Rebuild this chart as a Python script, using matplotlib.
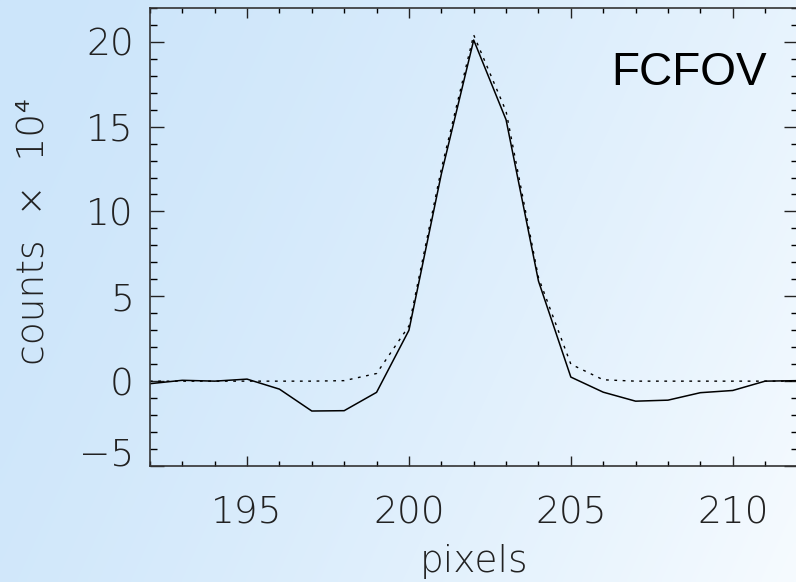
import numpy as np
import matplotlib
matplotlib.use("Agg")
import matplotlib.pyplot as plt
from matplotlib.ticker import MultipleLocator

# Pixel positions and counts (units of 1e4)
pixels = list(range(192, 213))
counts_data = [-0.15, 0.05, 0.0, 0.12, -0.47, -1.76, -1.74, -0.66, 3.0, 12.2,
               20.1, 15.4, 5.9, 0.24, -0.65, -1.18, -1.12, -0.68, -0.55, 0.0, 0.03]
counts_model = [0.0, 0.0, 0.0, 0.0, 0.0, 0.0, 0.03, 0.45, 3.25, 12.5,
                20.4, 15.9, 6.1, 1.0, 0.08, 0.0, 0.0, 0.0, 0.0, 0.0, 0.0]
xticks = [195, 200, 205, 210]
yticks = [-5, 0, 5, 10, 15, 20]

W, H, DPI = 796, 582, 100
fig = plt.figure(figsize=(W / DPI, H / DPI), dpi=DPI)

# soft blue-to-white background gradient
bg = fig.add_axes([0, 0, 1, 1])
bg.set_axis_off()
xn = np.linspace(0, 1, 200)[None, :]
yn = np.linspace(0, 1, 150)[:, None]
t = np.clip(0.75 * xn + 0.25 * yn, 0, 1) ** 1.5
c0 = np.array([204, 229, 250]) / 255.0
c1 = np.array([246, 251, 255]) / 255.0
img = c0[None, None, :] * (1 - t[..., None]) + c1[None, None, :] * t[..., None]
bg.imshow(img, aspect="auto", extent=[0, 1, 0, 1], origin="upper", interpolation="bilinear")
bg.set_xlim(0, 1)
bg.set_ylim(0, 1)

left, right = 149.9, 797.5
top, bottom = 7.8, 466.0
ax = fig.add_axes([left / W, (H - bottom) / H, (right - left) / W, (bottom - top) / H])
ax.set_facecolor("none")

ax.plot(pixels, counts_model, color="black", lw=1.0, linestyle=(0, (2, 4)))
ax.plot(pixels, counts_data, color="black", lw=1.1)

ax.set_xlim(192, 212)
ax.set_ylim(-5, 22)
ax.set_xticks(xticks)
ax.set_yticks(yticks)
ax.xaxis.set_minor_locator(MultipleLocator(1))
ax.yaxis.set_minor_locator(MultipleLocator(1))

thin = dict(family=["DejaVu Sans"], weight=200, size=27)
ax.set_xticklabels([str(v) for v in xticks], **thin)
ax.set_yticklabels([("\u2212" + str(-v)) if v < 0 else str(v) for v in yticks], **thin)
for lab in ax.get_yticklabels():
    if lab.get_text().startswith("\u2212"):
        lab.set_va("baseline")

ax.tick_params(axis="x", which="major", direction="in", length=7, width=1.0,
               top=True, bottom=True, pad=21, colors="#222222")
ax.tick_params(axis="x", which="minor", direction="in", length=3.6, width=1.0,
               top=True, bottom=True)
ax.tick_params(axis="y", which="major", direction="in", length=10, width=1.0,
               left=True, right=True, pad=11.5, colors="#222222")
ax.tick_params(axis="y", which="minor", direction="in", length=5, width=1.0,
               left=True, right=True)
for sp in ax.spines.values():
    sp.set_color("#333333")
    sp.set_linewidth(1.2)

ax.set_xlabel("pixels", color="#222222", **thin)
ax.xaxis.set_label_coords(0.5, -0.2314)
ax.xaxis.label.set_va("baseline")

ax.set_ylabel("counts  \u00d7  10\u2074", color="#222222", **thin)
ax.yaxis.set_label_coords((43.3 - left) / (right - left), 0.513)
ax.yaxis.label.set_rotation_mode("anchor")
ax.yaxis.label.set_va("baseline")
ax.yaxis.label.set_ha("center")

ax.text((611.7 - left) / (right - left), (bottom - 85) / (bottom - top), "FCFOV",
        transform=ax.transAxes, ha="left", va="baseline",
        family=["Liberation Sans", "DejaVu Sans"], size=33, color="black")

fig.savefig("out.png", dpi=DPI)
